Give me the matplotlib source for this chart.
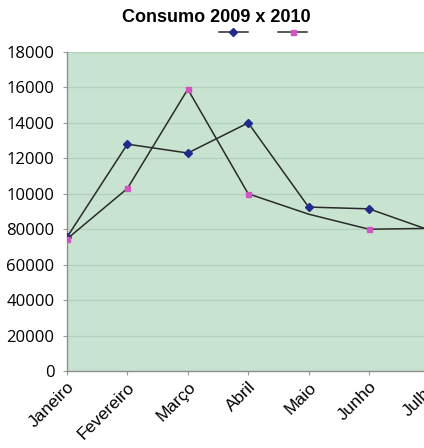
import matplotlib.pyplot as plt
from matplotlib.lines import Line2D

meses = ['Janeiro', 'Fevereiro', 'Março', 'Abril', 'Maio', 'Junho', 'Julho']
consumo_2009 = [7550, 12800, 12300, 14000, 9250, 9150, 7950]
consumo_2010 = [7450, 10300, 15900, 10000, 8850, 8000, 8050]

y_ticks = [0, 2000, 4000, 6000, 8000, 10000, 12000, 14000, 16000, 18000]
y_labels = ['0', '20000', '40000', '60000', '80000', '10000', '12000', '14000', '16000', '18000']

fig = plt.figure(figsize=(4.24, 4.48), dpi=100)
fig.patch.set_facecolor('white')

# plot area runs past the right edge of the canvas
ax = fig.add_axes([67 / 424, 77 / 448, 7 * 60.4 / 424, 319 / 448])
ax.set_facecolor('#c9e3d1')

x = list(range(len(meses)))
ax.plot(x, consumo_2009, color='#2a2a2a', lw=1.1, marker='D', ms=4,
        mfc='#1f2a8a', mec='#1f2a8a', zorder=3)
ax.plot(x, consumo_2010, color='#2a2a2a', lw=1.1, marker='s', ms=3.6,
        mfc='#d055c0', mec='#d055c0', markevery=[0, 1, 2, 3, 5, 6], zorder=3)

ax.set_xlim(0, 7)
ax.set_ylim(0, 18000)
ax.set_yticks(y_ticks)
ax.set_yticklabels(y_labels, fontsize=12, family='Open Sans')
ax.set_xticks(x)
ax.set_xticklabels(meses, rotation=45, ha='right', rotation_mode='anchor',
                   fontsize=12.5, family='Liberation Sans')
ax.grid(axis='y', color='#b3d1bd', lw=0.9)
ax.set_axisbelow(True)
ax.tick_params(axis='both', color='#9a9a9a', length=3, width=0.8)
ax.tick_params(axis='y', pad=6)
ax.tick_params(axis='x', pad=3)
for side in ['top', 'right']:
    ax.spines[side].set_visible(False)
for side in ['left', 'bottom']:
    ax.spines[side].set_color('#8f8f8f')
    ax.spines[side].set_linewidth(1.0)

fig.text(216 / 424, 1 - 17 / 448, 'Consumo 2009 x 2010', ha='center', va='center',
         fontsize=13, fontweight='bold', family='Liberation Sans')

handles = [
    Line2D([], [], color='#2a2a2a', lw=1.1, marker='D', ms=4, mfc='#1f2a8a', mec='#1f2a8a'),
    Line2D([], [], color='#2a2a2a', lw=1.1, marker='s', ms=3.6, mfc='#d055c0', mec='#d055c0'),
]
fig.legend(handles, ['', ''], loc='center', bbox_to_anchor=(263 / 424, 1 - 33 / 448),
           ncol=2, frameon=False, handlelength=2.1, handletextpad=0, columnspacing=2.2,
           borderpad=0)

fig.savefig('out.png', dpi=100)
